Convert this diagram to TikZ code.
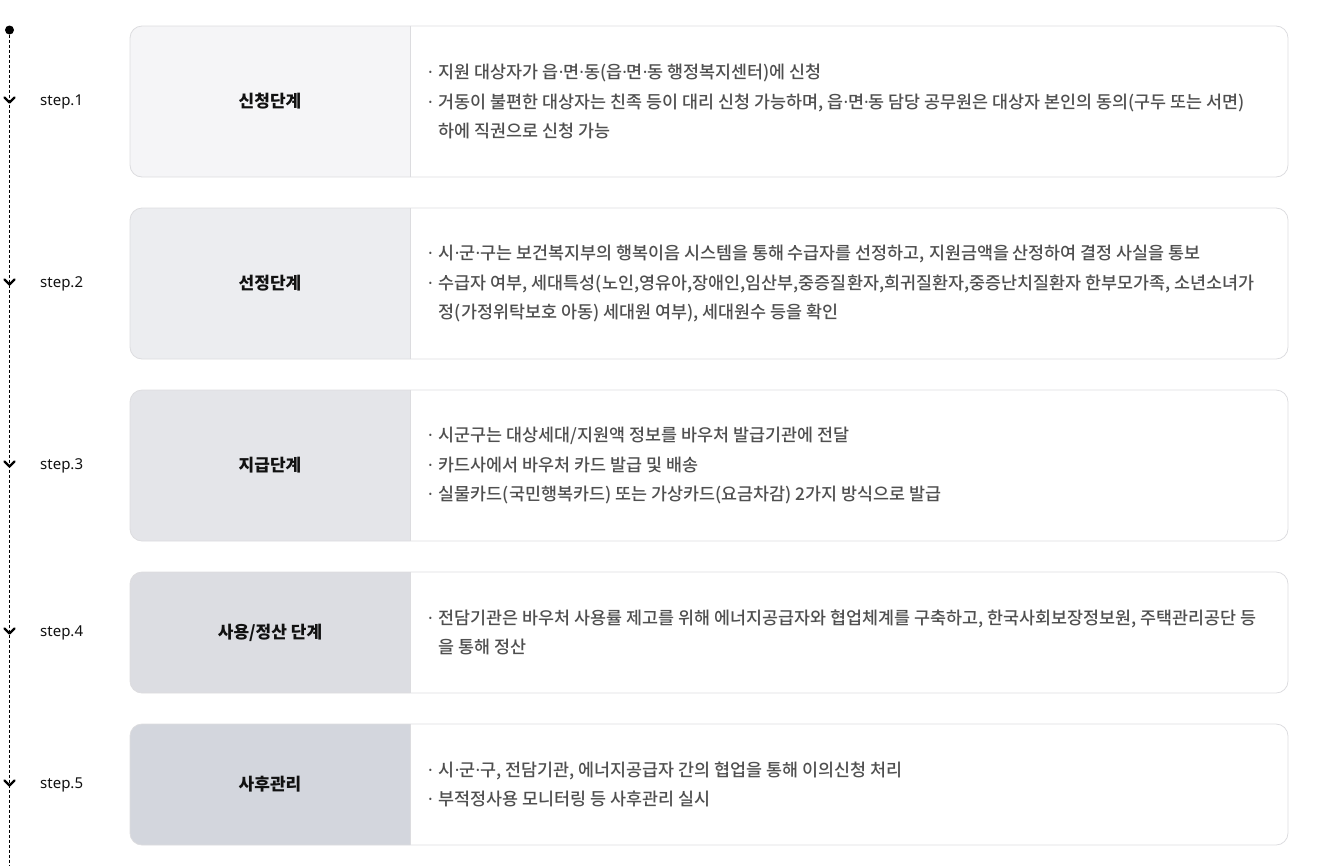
\documentclass[tikz,border=0pt]{standalone}
\usepackage{fontspec}
\setmainfont{Noto Sans CJK KR}
\newfontfamily\krmedium{Noto Sans CJK KR Medium}
\newfontfamily\latinfont{Noto Sans}
\usepackage{xcolor}
\usetikzlibrary{positioning}

\definecolor{stepA}{HTML}{F5F5F7}
\definecolor{stepB}{HTML}{ECEDF0}
\definecolor{stepC}{HTML}{E4E5E9}
\definecolor{stepD}{HTML}{DCDDE2}
\definecolor{stepE}{HTML}{D3D6DD}
\definecolor{frameGray}{HTML}{DCDCDF}
\definecolor{bodyGray}{HTML}{4F4F4F}
\definecolor{titleBlack}{HTML}{111111}

% narrow middle dot, and the bullet in front of a line
\newcommand{\md}{{\latinfont ·}}
\newcommand{\bl}{\md\hspace{6pt}}

\begin{document}
\begin{tikzpicture}[
  x=1pt, y=-1pt,
  frame/.style={draw=frameGray, line width=0.8pt, rounded corners=12pt},
  divider/.style={draw=frameGray, line width=0.8pt},
  title/.style={font=\fontsize{17}{20}\selectfont\bfseries, text=titleBlack},
  body/.style={anchor=west, align=left, inner sep=0pt, text=bodyGray,
    font=\krmedium\fontsize{17.4}{29.5}\selectfont},
  steplabel/.style={anchor=west, inner sep=0pt, text=titleBlack,
    font=\latinfont\fontsize{15}{16}\selectfont},
  chev/.style={line width=2.2pt, line cap=round, line join=round}
]
\useasboundingbox (0,0) rectangle (1324,865);

% timeline
\node[circle, fill=black, inner sep=0pt, minimum size=9pt] (dot) at (9.5,30) {};
\coordinate (lineend) at (9.5,865);
\draw[dashed, dash pattern=on 3pt off 2pt, line width=0.7pt] (dot) -- (lineend);

% step 1
\fill[stepA] (410,26) [rounded corners=12pt] -- (130,26) -- (130,177) [sharp corners] -- (410,177) -- cycle;
\draw[frame] (130,26) rectangle (1288,177);
\draw[divider] (410,26) -- (410,177);
\draw[chev] (4.5,97.5) -- (9.5,102.5) -- (14.5,97.5);
\node[steplabel] (s1) at (40,101.5) {step.1};
\node[title] (t1) at (270,101.5) {신청단계};
\node[body] (b1) at (428,101.5) {\bl 지원 대상자가 읍\md 면\md 동(읍\md 면\md 동 행정복지센터)에 신청\\
  \bl 거동이 불편한 대상자는 친족 등이 대리 신청 가능하며, 읍\md 면\md 동 담당 공무원은 대상자 본인의 동의(구두 또는 서면)\\
  \phantom{\bl}하에 직권으로 신청 가능};

% step 2
\fill[stepB] (410,208) [rounded corners=12pt] -- (130,208) -- (130,359) [sharp corners] -- (410,359) -- cycle;
\draw[frame] (130,208) rectangle (1288,359);
\draw[divider] (410,208) -- (410,359);
\draw[chev] (4.5,279.5) -- (9.5,284.5) -- (14.5,279.5);
\node[steplabel] (s2) at (40,283.5) {step.2};
\node[title] (t2) at (270,283.5) {선정단계};
\node[body] (b2) at (428,283.5) {\bl 시\md 군\md 구는 보건복지부의 행복이음 시스템을 통해 수급자를 선정하고, 지원금액을 산정하여 결정 사실을 통보\\
  \bl 수급자 여부, 세대특성(노인,영유아,장애인,임산부,중증질환자,희귀질환자,중증난치질환자 한부모가족, 소년소녀가\\
  \phantom{\bl}정(가정위탁보호 아동) 세대원 여부), 세대원수 등을 확인};

% step 3
\fill[stepC] (410,390) [rounded corners=12pt] -- (130,390) -- (130,541) [sharp corners] -- (410,541) -- cycle;
\draw[frame] (130,390) rectangle (1288,541);
\draw[divider] (410,390) -- (410,541);
\draw[chev] (4.5,461.5) -- (9.5,466.5) -- (14.5,461.5);
\node[steplabel] (s3) at (40,465.5) {step.3};
\node[title] (t3) at (270,465.5) {지급단계};
\node[body] (b3) at (428,465.5) {\bl 시군구는 대상세대/지원액 정보를 바우처 발급기관에 전달\\
  \bl 카드사에서 바우처 카드 발급 및 배송\\
  \bl 실물카드(국민행복카드) 또는 가상카드(요금차감) 2가지 방식으로 발급};

% step 4
\fill[stepD] (410,572) [rounded corners=12pt] -- (130,572) -- (130,693) [sharp corners] -- (410,693) -- cycle;
\draw[frame] (130,572) rectangle (1288,693);
\draw[divider] (410,572) -- (410,693);
\draw[chev] (4.5,628.5) -- (9.5,633.5) -- (14.5,628.5);
\node[steplabel] (s4) at (40,632.5) {step.4};
\node[title] (t4) at (270,632.5) {사용/정산 단계};
\node[body] (b4) at (428,632.5) {\bl 전담기관은 바우처 사용률 제고를 위해 에너지공급자와 협업체계를 구축하고, 한국사회보장정보원, 주택관리공단 등\\
  \phantom{\bl}을 통해 정산};

% step 5
\fill[stepE] (410,724) [rounded corners=12pt] -- (130,724) -- (130,845) [sharp corners] -- (410,845) -- cycle;
\draw[frame] (130,724) rectangle (1288,845);
\draw[divider] (410,724) -- (410,845);
\draw[chev] (4.5,780.5) -- (9.5,785.5) -- (14.5,780.5);
\node[steplabel] (s5) at (40,784.5) {step.5};
\node[title] (t5) at (270,784.5) {사후관리};
\node[body] (b5) at (428,784.5) {\bl 시\md 군\md 구, 전담기관, 에너지공급자 간의 협업을 통해 이의신청 처리\\
  \bl 부적정사용 모니터링 등 사후관리 실시};

\end{tikzpicture}
\end{document}
